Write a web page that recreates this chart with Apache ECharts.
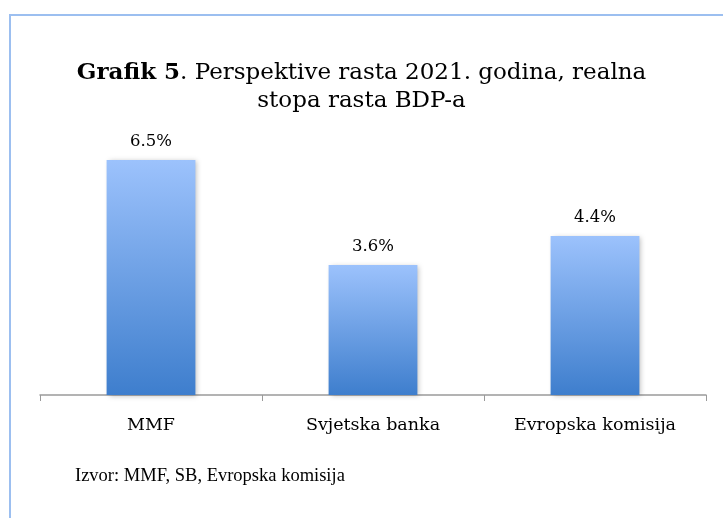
<!DOCTYPE html>
<html>
<head>
<meta charset="utf-8">
<script src="https://cdn.jsdelivr.net/npm/echarts@6/dist/echarts.min.js"></script>
<style>
  html, body { margin: 0; padding: 0; background: #fff; }
  #chart { width: 723px; height: 518px; }
</style>
</head>
<body>
<div id="chart"></div>
<script>
const categories = ['MMF', 'Svjetska banka', 'Evropska komisija'];
const growth = [6.5, 3.6, 4.4];
const sourceNote = 'Izvor: MMF, SB, Evropska komisija';

const font = 'DejaVu Serif';
const chart = echarts.init(document.getElementById('chart'));

chart.setOption({
  animation: false,
  title: {
    text: '{b|Grafik 5}. Perspektive rasta 2021. godina, realna\nstopa rasta BDP-a',
    left: 'center',
    top: 54,
    textStyle: {
      fontFamily: font,
      fontSize: 23,
      fontWeight: 'normal',
      color: '#000',
      lineHeight: 28,
      align: 'center',
      rich: {
        b: { fontFamily: font, fontSize: 23, fontWeight: 'bold', color: '#000', lineHeight: 28 }
      }
    }
  },
  graphic: [
    {
      type: 'polyline',
      shape: { points: [[10, 530], [10, 15], [740, 15]] },
      style: { stroke: '#9cbff0', lineWidth: 2, fill: null },
      silent: true
    },
    {
      type: 'text',
      left: 75,
      top: 467,
      style: { text: sourceNote, fontFamily: 'Liberation Serif', fontSize: 18.5, fill: '#000' }
    }
  ],
  grid: { left: 40, right: 17, top: 142, bottom: 123 },
  xAxis: {
    type: 'category',
    data: categories,
    axisLine: { lineStyle: { color: '#9a9a9a', width: 1.5 } },
    axisTick: { show: true, length: 6, lineStyle: { color: '#9a9a9a' } },
    axisLabel: { fontFamily: font, fontSize: 17.5, color: '#000', margin: 21 }
  },
  yAxis: {
    type: 'value',
    min: 0,
    max: 7,
    show: false,
    splitLine: { show: false }
  },
  series: [{
    type: 'bar',
    data: growth,
    barWidth: '40%',
    itemStyle: {
      color: new echarts.graphic.LinearGradient(0, 0, 0, 1, [
        { offset: 0, color: '#9cc2fc' },
        { offset: 1, color: '#3e7ecd' }
      ]),
      shadowColor: 'rgba(0,0,0,0.25)',
      shadowBlur: 5,
      shadowOffsetX: 2,
      shadowOffsetY: 1
    },
    label: {
      show: true,
      position: 'top',
      distance: 10,
      formatter: p => p.value.toFixed(1) + '%',
      fontFamily: font,
      fontSize: 16.5,
      color: '#000'
    }
  }]
});
</script>
</body>
</html>
